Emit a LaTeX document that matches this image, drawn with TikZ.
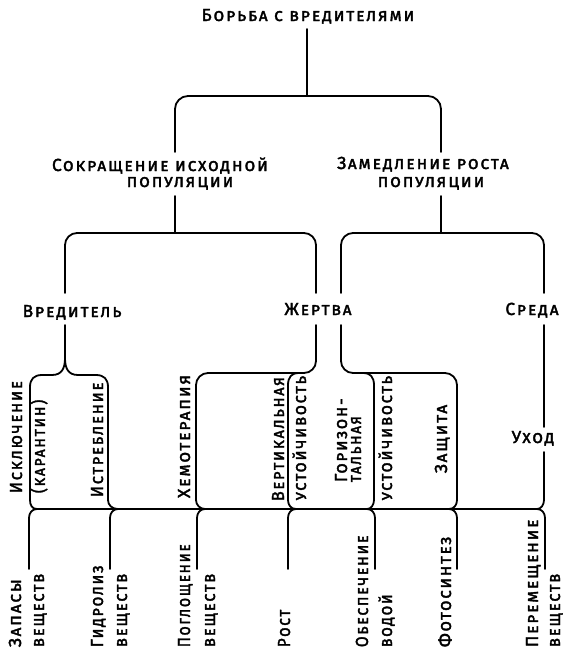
\documentclass[tikz,border=0pt]{standalone}
\usepackage{fontspec}
\setmainfont{Fira Sans}[LetterSpace=10, FakeBold=2]
\newcommand\lblfont{\fontsize{17.5}{20}\selectfont\scshape}
\begin{document}
\begin{tikzpicture}[x=1pt,y=-1pt, line width=1.8pt, line cap=round, line join=round,
  lbl/.style={font=\lblfont, inner sep=0pt},
  vlbl/.style={lbl, rotate=90, anchor=base west, xscale=#1},
  vlbl/.default=1,
  hlbl/.style={lbl, anchor=base}]
\useasboundingbox (0,0) rectangle (569,657);
% horizontal labels
\node[hlbl] (top) at (308,21) {Борьба с вредителями};
\node[hlbl] (a1) at (160,171) {Сокращение исходной};
\node[hlbl] (a1b) at (180,187) {популяции};
\node[hlbl] (a2) at (423,169) {Замедление роста};
\node[hlbl] (a2b) at (431,187) {популяции};
\node[hlbl] (b1) at (72,317) {Вредитель};
\node[hlbl] (b2) at (318,315) {Жертва};
\node[hlbl] (b3) at (532,315) {Среда};
\node[hlbl] (ux) at (533,443) {Уход};
% upper vertical labels
\node[vlbl=0.94] (u1) at (22,494) {Исключение};
\node[vlbl=0.9] (u1b) at (45,494) {(карантин)};
\node[vlbl=0.94] (u2) at (103,498) {Истребление};
\node[vlbl] (u3) at (190,499) {Хемотерапия};
\node[vlbl=0.93] (u4) at (284,502) {Вертикальная};
\node[vlbl=0.94] (u4b) at (306,501) {устойчивость};
\node[vlbl=0.96] (u5) at (347,483) {Горизон-};
\node[vlbl=0.88] (u5b) at (361,483) {тальная};
\node[vlbl=0.94] (u5c) at (392,501) {устойчивость};
\node[vlbl] (u6) at (447,474) {Защита};
% lower vertical labels
\node[vlbl] (d1) at (21,648) {Запасы};
\node[vlbl=0.94] (d1b) at (44,648) {веществ};
\node[vlbl=0.91] (d2) at (103,648) {Гидролиз};
\node[vlbl=0.94] (d2b) at (127,648) {веществ};
\node[vlbl=0.86] (d3) at (190,648) {Поглощение};
\node[vlbl=0.94] (d3b) at (215,648) {веществ};
\node[vlbl=0.88] (d4) at (290,648) {Рост};
\node[vlbl=0.9] (d5) at (368,648) {Обеспечение};
\node[vlbl=0.9] (d5b) at (392,648) {водой};
\node[vlbl=0.97] (d6) at (451,648) {Фотосинтез};
\node[vlbl=0.98] (d7) at (538,648) {Перемещение};
\node[vlbl=0.94] (d7b) at (560,648) {веществ};
% top levels
\draw (307,29) -- (307,96);
\draw[rounded corners=13] (175,152) -- (175,96) -- (441,96) -- (441,152);
\draw (175,196) -- (175,233);
\draw[rounded corners=12] (65,293) -- (65,233) -- (316,233) -- (316,293);
\draw (441,196) -- (441,233);
\draw[rounded corners=12] (341,293) -- (341,233) -- (544,233) -- (544,293);
% Vreditel brace
\draw (65,325) -- (65,358);
\draw (65,358) .. controls (65,368) and (62,375) .. (52,375) -- (42,375) .. controls (34,375) and (30,379) .. (30,387) -- (30,500) .. controls (30,505) and (32,509) .. (37,509);
\draw (65,358) .. controls (65,368) and (68,375) .. (78,375) -- (96,375) .. controls (104,375) and (108,379) .. (108,387) -- (108,500) .. controls (108,505) and (112,509) .. (118,509);
% Zhertva left
\draw[rounded corners=12] (316,325) -- (316,373) -- (196,373) -- (196,500);
\draw (196,500) .. controls (196,505) and (200,509) .. (205,509);
\draw (298,373) .. controls (292,373) and (288,377) .. (288,385) -- (288,500) .. controls (288,505) and (291,509) .. (296,509);
% Zhertva right
\draw[rounded corners=12] (341,325) -- (341,373) -- (457,373) -- (457,500);
\draw (457,500) .. controls (457,505) and (454,509) .. (449,509);
\draw (364,373) .. controls (370,373) and (374,377) .. (374,385) -- (374,500) .. controls (374,505) and (371,509) .. (367,509);
% Sreda
\draw (544,325) -- (544,427);
\draw (544,452) -- (544,500) .. controls (544,505) and (541,509) .. (537,509);
% bottom line
\draw (37,509) -- (537,509);
% lower legs
\foreach \c in {37,118,205,296}{
  \draw (\c,509) .. controls (\c-5,509) and (\c-8,513) .. (\c-8,518) -- (\c-8,569);
}
\foreach \c in {367,449,537}{
  \draw (\c,509) .. controls (\c+5,509) and (\c+8,513) .. (\c+8,518) -- (\c+8,569);
}
\end{tikzpicture}
\end{document}
